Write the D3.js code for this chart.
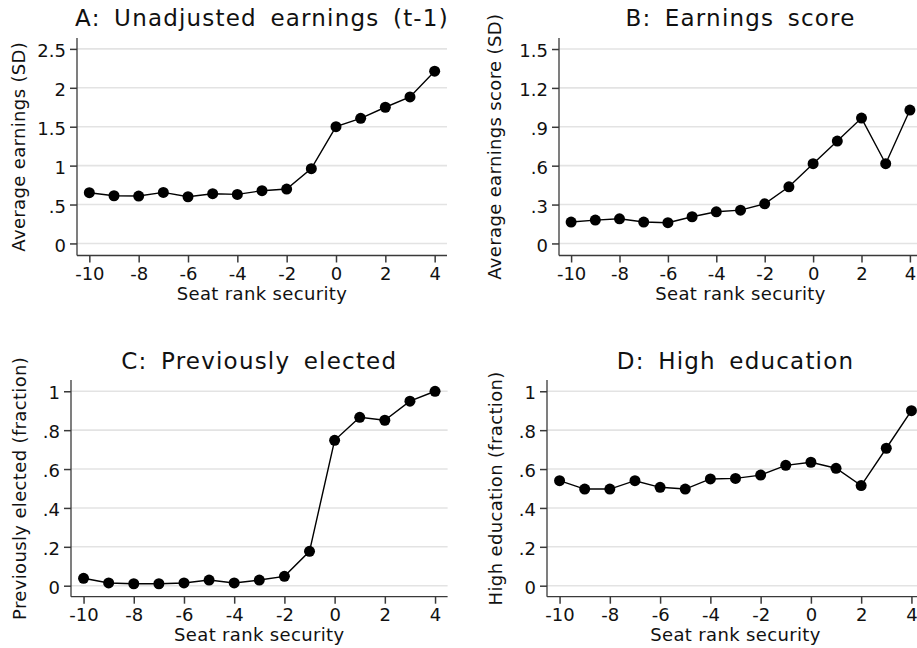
<!DOCTYPE html>
<html>
<head>
<meta charset="utf-8">
<script src="https://cdn.jsdelivr.net/npm/d3@7"></script>
<style>
  html, body { margin: 0; padding: 0; background: #fff; }
  svg { display: block; font-family: "DejaVu Sans", Verdana, sans-serif; }
</style>
</head>
<body>
<svg id="chart" width="917" height="648"></svg>
<script>
// ---- data ----
const seatRank = [-10, -9, -8, -7, -6, -5, -4, -3, -2, -1, 0, 1, 2, 3, 4];
const unadjustedEarnings = [0.652, 0.613, 0.609, 0.656, 0.600, 0.639, 0.630, 0.678, 0.699, 0.961, 1.501, 1.608, 1.750, 1.883, 2.213];
const earningsScore = [0.165, 0.180, 0.190, 0.165, 0.160, 0.206, 0.244, 0.257, 0.306, 0.437, 0.615, 0.790, 0.967, 0.615, 1.029];
const previouslyElected = [0.038, 0.014, 0.010, 0.010, 0.014, 0.029, 0.014, 0.029, 0.048, 0.177, 0.748, 0.866, 0.851, 0.949, 1.000];
const highEducation = [0.540, 0.497, 0.497, 0.540, 0.506, 0.497, 0.549, 0.552, 0.569, 0.619, 0.635, 0.604, 0.515, 0.707, 0.900];

const xTicks = [-10, -8, -6, -4, -2, 0, 2, 4];
const yTicksA = [0, 0.5, 1, 1.5, 2, 2.5];
const yTicksB = [0, 0.3, 0.6, 0.9, 1.2, 1.5];
const yTicksCD = [0, 0.2, 0.4, 0.6, 0.8, 1];

const titles = ["A: Unadjusted earnings (t-1)", "B: Earnings score", "C: Previously elected", "D: High education"];
const yTitles = ["Average earnings (SD)", "Average earnings score (SD)", "Previously elected (fraction)", "High education (fraction)"];
const xTitle = "Seat rank security";

// ---- layout (styling, not data) ----
const panels = [
  { values: unadjustedEarnings, yTicks: yTicksA, yDomain: [-0.155, 2.64], left: 77, right: 447, top: 38, bottom: 255.5, yTitleX: 25, titleY: 26 },
  { values: earningsScore, yTicks: yTicksB, yDomain: [-0.093, 1.585], left: 559, right: 922, top: 38, bottom: 255.5, yTitleX: 501, titleY: 26 },
  { values: previouslyElected, yTicks: yTicksCD, yDomain: [-0.0566, 1.058], left: 71, right: 447.6, top: 380, bottom: 596.7, yTitleX: 25.5, titleY: 369 },
  { values: highEducation, yTicks: yTicksCD, yDomain: [-0.0566, 1.058], left: 547, right: 924, top: 380, bottom: 596.7, yTitleX: 502, titleY: 369 }
];

const fmt = v => {
  if (v === 0) return "0";
  let s = String(+v.toFixed(2));
  return s.replace(/^0\./, ".").replace(/^-0\./, "-.");
};

const svg = d3.select("#chart");
const axisColor = "#3a3a3a";

panels.forEach((p, i) => {
  const g = svg.append("g");
  const x = d3.scaleLinear().domain([-10.5, 4.5]).range([p.left, p.right]);
  const y = d3.scaleLinear().domain(p.yDomain).range([p.bottom, p.top]);

  // gridlines
  g.append("g").selectAll("line").data(p.yTicks).join("line")
    .attr("x1", p.left).attr("x2", p.right)
    .attr("y1", d => y(d)).attr("y2", d => y(d))
    .attr("stroke", "#e3e3e3").attr("stroke-width", 1.6);

  // y axis
  const yAxis = d3.axisLeft(y).tickValues(p.yTicks).tickFormat(fmt).tickSize(7).tickSizeOuter(0).tickPadding(4);
  const ya = g.append("g").attr("transform", `translate(${p.left},0)`).call(yAxis);
  ya.select(".domain").remove();
  ya.selectAll(".tick line").attr("stroke", axisColor).attr("stroke-width", 1.5);
  ya.selectAll(".tick text").attr("fill", "#111").attr("font-size", 18).attr("dy", "0.42em")
    .attr("font-family", "DejaVu Sans");

  // x axis
  const xAxis = d3.axisBottom(x).tickValues(xTicks).tickFormat(d => String(d)).tickSize(7).tickSizeOuter(0).tickPadding(3);
  const xa = g.append("g").attr("transform", `translate(0,${p.bottom})`).call(xAxis);
  xa.select(".domain").remove();
  xa.selectAll(".tick line").attr("stroke", axisColor).attr("stroke-width", 1.5);
  xa.selectAll(".tick text").attr("fill", "#111").attr("font-size", 18).attr("dy", "0.78em")
    .attr("font-family", "DejaVu Sans");

  // axis lines
  g.append("line").attr("x1", p.left).attr("x2", p.left).attr("y1", p.top).attr("y2", p.bottom)
    .attr("stroke", axisColor).attr("stroke-width", 1.3);
  g.append("line").attr("x1", p.left).attr("x2", p.right).attr("y1", p.bottom).attr("y2", p.bottom)
    .attr("stroke", axisColor).attr("stroke-width", 1.3);

  // series line
  const data = seatRank.map((s, k) => [s, p.values[k]]);
  g.append("path").datum(data)
    .attr("d", d3.line().x(d => x(d[0])).y(d => y(d[1])))
    .attr("fill", "none").attr("stroke", "#000").attr("stroke-width", 1.4);
  g.append("g").selectAll("circle").data(data).join("circle")
    .attr("cx", d => x(d[0])).attr("cy", d => y(d[1])).attr("r", 5.5).attr("fill", "#000");

  // titles
  const cx = (p.left + p.right) / 2;
  g.append("text").attr("x", cx).attr("y", p.titleY).attr("text-anchor", "middle")
    .attr("font-size", 23).attr("fill", "#111")
    .attr("letter-spacing", "1.2px").attr("word-spacing", "5px").text(titles[i]);
  g.append("text").attr("x", cx).attr("y", p.bottom + 44).attr("text-anchor", "middle")
    .attr("font-size", 18).attr("fill", "#111").attr("letter-spacing", "0.35px").text(xTitle);
  g.append("text")
    .attr("transform", `translate(${p.yTitleX},${(p.top + p.bottom) / 2}) rotate(-90)`)
    .attr("text-anchor", "middle").attr("font-size", 18).attr("fill", "#111")
    .attr("letter-spacing", "0.35px").text(yTitles[i]);
});
</script>
</body>
</html>
